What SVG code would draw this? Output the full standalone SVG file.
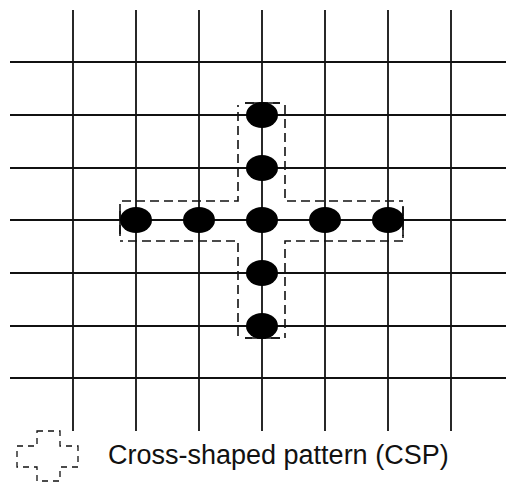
<svg xmlns="http://www.w3.org/2000/svg" width="506" height="483" viewBox="0 0 506 483">
<style>
.g{stroke:#111;stroke-width:1.8;fill:none}
.d{stroke:#111;stroke-width:1.6;fill:none;stroke-dasharray:9,5}
.n{fill:#000}
.t{font-family:"Liberation Sans",Arial,sans-serif;font-size:27px;fill:#111}
</style>
<rect width="506" height="483" fill="#fff"/>
<g id="connectors">
<g class="g">
<line x1="73" y1="10" x2="73" y2="431"/>
<line x1="136" y1="10" x2="136" y2="431"/>
<line x1="199" y1="10" x2="199" y2="431"/>
<line x1="262" y1="10" x2="262" y2="431"/>
<line x1="325" y1="10" x2="325" y2="431"/>
<line x1="388" y1="10" x2="388" y2="431"/>
<line x1="451" y1="10" x2="451" y2="431"/>
<line x1="10" y1="62" x2="506" y2="62"/>
<line x1="10" y1="115" x2="506" y2="115"/>
<line x1="10" y1="168" x2="506" y2="168"/>
<line x1="10" y1="220" x2="506" y2="220"/>
<line x1="10" y1="273" x2="506" y2="273"/>
<line x1="10" y1="326" x2="506" y2="326"/>
<line x1="10" y1="378" x2="506" y2="378"/>
</g>
</g>
<g id="csp">
<path class="d" d="M245,103 H280 M285,105 V201 H403 M403,207 V238 M403,241 H285 V338 M280,338 H245 M238,336 V241 H120 M120,234 V204 M122,201 H238 V105"/>
<path class="g" d="M245,103 H280 M245,338 H280 M120,206 V236 M403,206 V236" style="stroke-width:1.6"/>
</g>
<g id="nodes">
<ellipse id="n1" class="n" cx="262" cy="115" rx="16" ry="13"/>
<ellipse id="n2" class="n" cx="262" cy="168" rx="16" ry="13"/>
<ellipse id="n3" class="n" cx="262" cy="220" rx="16" ry="13"/>
<ellipse id="n4" class="n" cx="262" cy="273" rx="16" ry="13"/>
<ellipse id="n5" class="n" cx="262" cy="326" rx="16" ry="13"/>
<ellipse id="n6" class="n" cx="136" cy="220" rx="16" ry="13"/>
<ellipse id="n7" class="n" cx="199" cy="220" rx="16" ry="13"/>
<ellipse id="n8" class="n" cx="325" cy="220" rx="16" ry="13"/>
<ellipse id="n9" class="n" cx="388" cy="220" rx="16" ry="13"/>
</g>
<g id="legend">
<path class="d" style="stroke-width:1.3;stroke-dasharray:6,5" d="M37,431 H60 V446 H78 V467 H60 V481 H37 V467 H17 V446 H37 Z"/>
<text class="t" x="108" y="464">Cross-shaped pattern (CSP)</text>
</g>
</svg>
